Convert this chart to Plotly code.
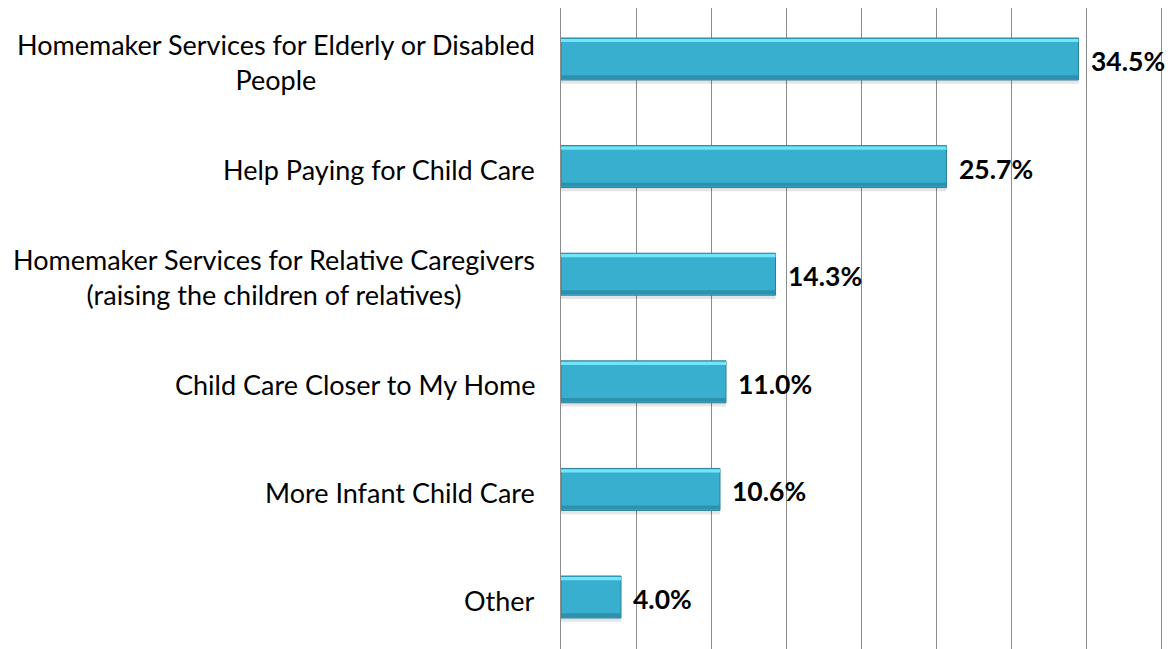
import plotly.graph_objects as go

categories = [
    "Homemaker Services for Elderly or Disabled<br>People",
    "Help Paying for Child Care",
    "Homemaker Services for Relative Caregivers<br>(raising the children of relatives)",
    "Child Care Closer to My Home",
    "More Infant Child Care",
    "Other",
]
values = [34.5, 25.7, 14.3, 11.0, 10.6, 4.0]
value_labels = ["34.5%", "25.7%", "14.3%", "11.0%", "10.6%", "4.0%"]
x_ticks = [0, 5, 10, 15, 20, 25, 30, 35, 40]

FONT = "Lato"
BW = 0.39
fig = go.Figure()

# drop shadow
fig.add_trace(go.Bar(
    y=categories, x=values, orientation="h",
    width=BW, offset=-BW / 2 + 0.035,
    marker=dict(color="rgba(0,0,0,0.10)", line=dict(width=0)),
    hoverinfo="skip",
))
# main bars
fig.add_trace(go.Bar(
    y=categories, x=values, orientation="h",
    width=BW, offset=-BW / 2,
    marker=dict(color="#38AFCF", line=dict(color="#2B8099", width=1)),
    hoverinfo="skip",
))
# highlight strip (top)
fig.add_trace(go.Bar(
    y=categories, x=values, orientation="h",
    width=0.03, offset=-BW / 2 + 0.008,
    marker=dict(color="#70E6FA", line=dict(width=0)),
    hoverinfo="skip",
))
# shade strip (bottom)
fig.add_trace(go.Bar(
    y=categories, x=values, orientation="h",
    width=0.035, offset=BW / 2 - 0.045,
    marker=dict(color="#2D90AD", line=dict(width=0)),
    hoverinfo="skip",
))

for c in categories:
    fig.add_annotation(
        x=0, xref="paper", xanchor="right", xshift=-24,
        y=c, yref="y", yanchor="middle", yshift=-3,
        text=c, align="center", showarrow=False,
        font=dict(family=FONT, size=27, color="#000000"),
    )

for c, v, t in zip(categories, values, value_labels):
    fig.add_annotation(
        x=v, xref="x", xanchor="left", xshift=10,
        y=c, yref="y", yanchor="middle", yshift=-2,
        text=t, showarrow=False,
        font=dict(family=FONT, size=26.5, color="#000000", weight="bold"),
    )

fig.update_layout(
    width=1167, height=641,
    margin=dict(l=553, r=14, t=0, b=0),
    plot_bgcolor="white", paper_bgcolor="white",
    barmode="overlay", showlegend=False,
    xaxis=dict(range=[0, 40], tickvals=x_ticks, showticklabels=False,
               showgrid=True, gridcolor="#8C8C8C", gridwidth=1,
               zeroline=False, showline=False),
    yaxis=dict(type="category", categoryorder="array", categoryarray=categories,
               range=[5.483, -0.474], showticklabels=False, showgrid=False,
               zeroline=False, showline=True, mirror=True,
               linecolor="#8C8C8C", linewidth=1),
)

fig.write_html("out.html")
